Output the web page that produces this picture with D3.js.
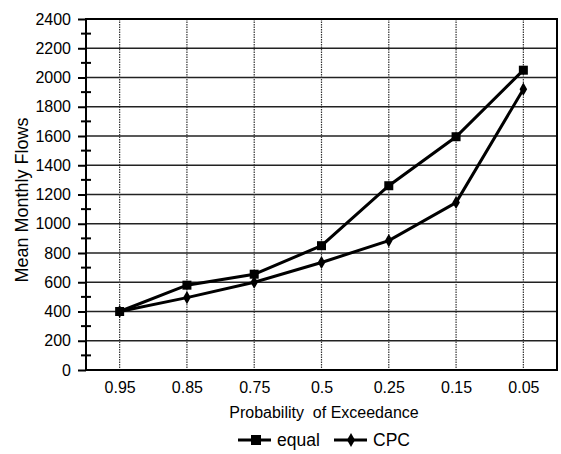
<!DOCTYPE html>
<html>
<head>
<meta charset="utf-8">
<script src="https://cdn.jsdelivr.net/npm/d3@7"></script>
<style>
  body { margin: 0; background: #fff; }
  text { font-family: "Liberation Sans", Arial, sans-serif; fill: #000; }
</style>
</head>
<body>
<svg id="chart" width="561" height="454"></svg>
<script>
const categories = ["0.95", "0.85", "0.75", "0.5", "0.25", "0.15", "0.05"];
const equalValues = [400, 580, 655, 850, 1260, 1595, 2050];
const cpcValues = [400, 495, 600, 735, 885, 1145, 1920];
const yTicks = [0, 200, 400, 600, 800, 1000, 1200, 1400, 1600, 1800, 2000, 2200, 2400];

const font = "Liberation Sans, Arial, sans-serif";
const svg = d3.select("#chart");
const margin = { left: 86, right: 4, top: 19, bottom: 84 };
const width = 561 - margin.left - margin.right;
const height = 454 - margin.top - margin.bottom;

const g = svg.append("g").attr("transform", `translate(${margin.left},${margin.top})`);

const x = d3.scalePoint().domain(categories).range([0, width]).padding(0.5);
const y = d3.scaleLinear().domain([0, 2400]).range([height, 0]);

// horizontal grid (solid)
g.selectAll(".hgrid")
  .data(yTicks)
  .join("line")
  .attr("x1", 0).attr("x2", width)
  .attr("y1", d => y(d)).attr("y2", d => y(d))
  .attr("stroke", "#222").attr("stroke-width", 1.6);

// vertical grid (dotted)
g.selectAll(".vgrid")
  .data(categories)
  .join("line")
  .attr("x1", d => x(d)).attr("x2", d => x(d))
  .attr("y1", 0).attr("y2", height)
  .attr("stroke", "#333").attr("stroke-width", 1.2)
  .attr("stroke-dasharray", "1.5,1");

// frame
g.append("rect")
  .attr("width", width).attr("height", height)
  .attr("fill", "none").attr("stroke", "#000").attr("stroke-width", 2);

// y axis
const yAxis = g.append("g")
  .call(d3.axisLeft(y).tickValues(yTicks).tickFormat(d3.format("d")).tickSize(8).tickPadding(7))
  .attr("font-family", font).attr("font-size", 16);
yAxis.select(".domain").remove();
yAxis.selectAll("line").attr("stroke", "#000").attr("stroke-width", 2);

// minor ticks crossing the y axis
const minor = d3.range(100, 2400, 200);
g.selectAll(".minor")
  .data(minor)
  .join("line")
  .attr("x1", -5).attr("x2", 5)
  .attr("y1", d => y(d)).attr("y2", d => y(d))
  .attr("stroke", "#000").attr("stroke-width", 2);

// x axis
const xAxis = g.append("g")
  .attr("transform", `translate(0,${height})`)
  .call(d3.axisBottom(x).tickSize(0).tickPadding(12))
  .attr("font-family", font).attr("font-size", 16);
xAxis.select(".domain").remove();

// lines
const line = d3.line().x((d, i) => x(categories[i])).y(d => y(d));

g.append("path").datum(equalValues)
  .attr("d", line).attr("fill", "none")
  .attr("stroke", "#000").attr("stroke-width", 3);
g.append("path").datum(cpcValues)
  .attr("d", line).attr("fill", "none")
  .attr("stroke", "#000").attr("stroke-width", 3);

g.selectAll(".sq")
  .data(equalValues)
  .join("rect")
  .attr("x", (d, i) => x(categories[i]) - 4.5)
  .attr("y", d => y(d) - 4.5)
  .attr("width", 9).attr("height", 9)
  .attr("fill", "#000");

g.selectAll(".dm")
  .data(cpcValues)
  .join("path")
  .attr("d", d3.symbol().type(d3.symbolDiamond).size(50))
  .attr("transform", (d, i) => `translate(${x(categories[i])},${y(d)})`)
  .attr("fill", "#000");

// axis titles
svg.append("text")
  .attr("transform", `translate(28,200) rotate(-90)`)
  .attr("text-anchor", "middle")
  .style("font-size", "18px")
  .text("Mean Monthly Flows");

svg.append("text")
  .attr("x", 324)
  .attr("y", 418)
  .attr("text-anchor", "middle")
  .style("font-size", "16px")
  .attr("xml:space", "preserve")
  .text("Probability  of Exceedance");

// legend
const legend = svg.append("g").attr("transform", "translate(238,446)");
const items = [
  { name: "equal", x: 0, shape: "square" },
  { name: "CPC", x: 96, shape: "diamond" }
];
items.forEach(it => {
  const lg = legend.append("g").attr("transform", `translate(${it.x},0)`);
  lg.append("line").attr("x1", 0).attr("x2", 33).attr("y1", -6).attr("y2", -6)
    .attr("stroke", "#000").attr("stroke-width", 3);
  if (it.shape === "square") {
    lg.append("rect").attr("x", 13).attr("y", -11).attr("width", 10).attr("height", 10).attr("fill", "#000");
  } else {
    lg.append("path").attr("d", d3.symbol().type(d3.symbolDiamond).size(55)())
      .attr("transform", "translate(17,-6)").attr("fill", "#000");
  }
  lg.append("text").attr("x", 39).attr("y", 0).style("font-size", "17.5px").text(it.name);
});
</script>
</body>
</html>
